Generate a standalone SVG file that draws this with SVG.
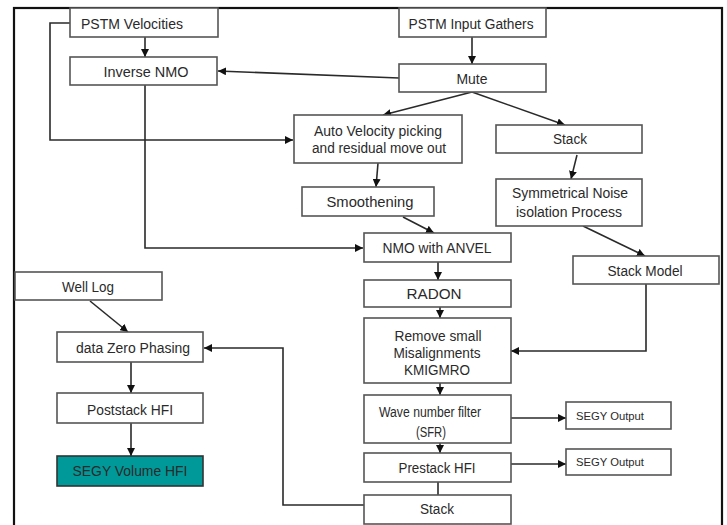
<svg xmlns="http://www.w3.org/2000/svg" width="727" height="525" viewBox="0 0 727 525">
<defs>
<style>
.box{fill:#fff;stroke:#555;stroke-width:1.6}
.teal{fill:#009999;stroke:#333;stroke-width:1.6}
.c{fill:none;stroke:#2a2a2a;stroke-width:1.6}
text{font-family:"Liberation Sans",Arial,sans-serif;font-size:14px;fill:#2a2a2a;text-anchor:middle}
.s{font-size:11.5px;text-anchor:start}
</style>
<marker id="a" markerUnits="userSpaceOnUse" markerWidth="8" markerHeight="8" refX="8" refY="4" orient="auto">
<path d="M0,0 L8,4 L0,8 z" fill="#111"/>
</marker>
</defs>
<rect width="727" height="525" fill="#fff"/>
<rect x="14" y="8" width="708" height="530" fill="none" stroke="#111" stroke-width="2.2"/>

<g id="connectors">
<path class="c" d="M145,37 V57" marker-end="url(#a)"/>
<path class="c" d="M70,23 H50 V140 H293" marker-end="url(#a)"/>
<path class="c" d="M145,85 V248 H363" marker-end="url(#a)"/>
<path class="c" d="M472,37 V64" marker-end="url(#a)"/>
<path class="c" d="M399,78 L218,71" marker-end="url(#a)"/>
<path class="c" d="M472,92 L383,115" marker-end="url(#a)"/>
<path class="c" d="M472,92 L565,125" marker-end="url(#a)"/>
<path class="c" d="M378,163 L376,187" marker-end="url(#a)"/>
<path class="c" d="M403,217 L434,233" marker-end="url(#a)"/>
<path class="c" d="M577,155 L571,179" marker-end="url(#a)"/>
<path class="c" d="M583,226 L645,256" marker-end="url(#a)"/>
<path class="c" d="M438,262 V280" marker-end="url(#a)"/>
<path class="c" d="M440,307 V318" marker-end="url(#a)"/>
<path class="c" d="M646,284 V351 H511" stroke-width="2" marker-end="url(#a)"/>
<path class="c" d="M440,383 V395" marker-end="url(#a)"/>
<path class="c" d="M511,418 H566" stroke-width="2.2" marker-end="url(#a)"/>
<path class="c" d="M440,443 V453" marker-end="url(#a)"/>
<path class="c" d="M511,464 H566" marker-end="url(#a)"/>
<path class="c" d="M438,482 V495"/>
<path class="c" d="M364,505 H283 V348 H204" marker-end="url(#a)"/>
<path class="c" d="M90,301 L128,332" marker-end="url(#a)"/>
<path class="c" d="M131,362 V393" marker-end="url(#a)"/>
<path class="c" d="M131,423 V456" marker-end="url(#a)"/>
</g>

<g id="pstm-velocities"><rect class="box" x="70" y="8" width="148" height="29"/><text x="132" y="29" textLength="102" lengthAdjust="spacingAndGlyphs">PSTM Velocities</text></g>
<g id="inverse-nmo"><rect class="box" x="70" y="57" width="147" height="28"/><text x="146" y="77" textLength="85" lengthAdjust="spacingAndGlyphs">Inverse NMO</text></g>
<g id="pstm-input"><rect class="box" x="399" y="8" width="147" height="29"/><text x="471" y="29" textLength="125" lengthAdjust="spacingAndGlyphs">PSTM Input Gathers</text></g>
<g id="mute"><rect class="box" x="399" y="64" width="147" height="28"/><text x="472" y="84" textLength="31" lengthAdjust="spacingAndGlyphs">Mute</text></g>
<g id="auto-velocity"><rect class="box" x="294" y="115" width="168" height="48"/><text x="378" y="136" textLength="128" lengthAdjust="spacingAndGlyphs">Auto Velocity picking</text><text x="379" y="153" textLength="134" lengthAdjust="spacingAndGlyphs">and residual move out</text></g>
<g id="smoothening"><rect class="box" x="302" y="187" width="132" height="29"/><text x="370" y="207" textLength="87" lengthAdjust="spacingAndGlyphs">Smoothening</text></g>
<g id="stack-right"><rect class="box" x="496" y="125" width="146" height="28"/><text x="570" y="144" textLength="34" lengthAdjust="spacingAndGlyphs">Stack</text></g>
<g id="symmetrical-noise"><rect class="box" x="496" y="179" width="146" height="47"/><text x="570" y="198" textLength="116" lengthAdjust="spacingAndGlyphs">Symmetrical Noise</text><text x="569" y="217" textLength="106" lengthAdjust="spacingAndGlyphs">isolation Process</text></g>
<g id="stack-model"><rect class="box" x="573" y="256" width="146" height="28"/><text x="645" y="276" textLength="75" lengthAdjust="spacingAndGlyphs">Stack Model</text></g>
<g id="nmo-anvel"><rect class="box" x="364" y="233" width="147" height="29"/><text x="437" y="253" textLength="109" lengthAdjust="spacingAndGlyphs">NMO with ANVEL</text></g>
<g id="radon"><rect class="box" x="364" y="280" width="147" height="27"/><text x="434" y="299" textLength="55" lengthAdjust="spacingAndGlyphs">RADON</text></g>
<g id="remove-small"><rect class="box" x="364" y="318" width="147" height="65"/><text x="438" y="341" textLength="87" lengthAdjust="spacingAndGlyphs">Remove small</text><text x="437" y="358" textLength="87" lengthAdjust="spacingAndGlyphs">Misalignments</text><text x="437" y="375" textLength="66" lengthAdjust="spacingAndGlyphs">KMIGMRO</text></g>
<g id="wave-number"><rect class="box" x="364" y="395" width="147" height="48"/><text x="430" y="417" textLength="102" lengthAdjust="spacingAndGlyphs">Wave number filter</text><text x="431" y="437" textLength="30" lengthAdjust="spacingAndGlyphs">(SFR)</text></g>
<g id="prestack-hfi"><rect class="box" x="364" y="453" width="147" height="29"/><text x="437" y="473" textLength="77" lengthAdjust="spacingAndGlyphs">Prestack HFI</text></g>
<g id="stack-bottom"><rect class="box" x="364" y="495" width="147" height="29"/><text x="437" y="514" textLength="34" lengthAdjust="spacingAndGlyphs">Stack</text></g>
<g id="segy-output-1"><rect class="box" x="566" y="402" width="105" height="27"/><text class="s" x="576" y="420" textLength="68" lengthAdjust="spacingAndGlyphs">SEGY Output</text></g>
<g id="segy-output-2"><rect class="box" x="566" y="449" width="105" height="26"/><text class="s" x="576" y="466" textLength="68" lengthAdjust="spacingAndGlyphs">SEGY Output</text></g>
<g id="well-log"><rect class="box" x="15" y="272" width="147" height="28"/><text x="88" y="292" textLength="52" lengthAdjust="spacingAndGlyphs">Well Log</text></g>
<g id="data-zero-phasing"><rect class="box" x="57" y="332" width="146" height="30"/><text x="133" y="353" textLength="114" lengthAdjust="spacingAndGlyphs">data Zero Phasing</text></g>
<g id="poststack-hfi"><rect class="box" x="57" y="393" width="146" height="30"/><text x="130" y="415" textLength="86" lengthAdjust="spacingAndGlyphs">Poststack HFI</text></g>
<g id="segy-volume-hfi"><rect class="teal" x="57" y="456" width="146" height="30"/><text x="130" y="476" textLength="115" lengthAdjust="spacingAndGlyphs">SEGY Volume HFI</text></g>
</svg>
